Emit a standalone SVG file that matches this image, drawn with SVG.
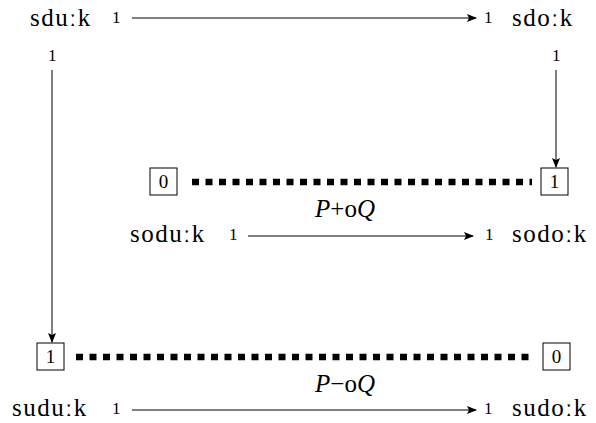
<svg xmlns="http://www.w3.org/2000/svg" width="596" height="423" viewBox="0 0 596 423">
<defs>
<marker id="ah" markerWidth="10" markerHeight="8" refX="9" refY="4" orient="auto" markerUnits="userSpaceOnUse">
<path d="M0,0 L10,4 L0,8 L2,4 Z" fill="#000"/>
</marker>
<style>
.box{fill:#fff;stroke:#000;stroke-width:1}
.ar{stroke:#000;stroke-width:1;fill:none;marker-end:url(#ah)}
.dot{stroke:#000;stroke-width:6.5;stroke-dasharray:7 6.5;fill:none}
</style>
</defs>
<g id="sduk"><text x="30" y="26" font-family="Liberation Serif" font-size="25" letter-spacing="1.5">sduːk</text><text x="112" y="23" font-family="Liberation Serif" font-size="17">1</text><text x="48" y="61" font-family="Liberation Serif" font-size="17">1</text></g>
<g id="sdok"><text x="484" y="23" font-family="Liberation Serif" font-size="17">1</text><text x="512" y="26" font-family="Liberation Serif" font-size="25" letter-spacing="1.5">sdoːk</text><text x="552" y="61" font-family="Liberation Serif" font-size="17">1</text></g>
<g id="soduk"><text x="130" y="242" font-family="Liberation Serif" font-size="25" letter-spacing="1.5">soduːk</text><text x="229" y="240" font-family="Liberation Serif" font-size="17">1</text></g>
<g id="sodok"><text x="485" y="240" font-family="Liberation Serif" font-size="17">1</text><text x="512" y="242" font-family="Liberation Serif" font-size="25" letter-spacing="1.5">sodoːk</text></g>
<g id="suduk"><text x="12" y="416" font-family="Liberation Serif" font-size="25" letter-spacing="1.5">suduːk</text><text x="112" y="414" font-family="Liberation Serif" font-size="17">1</text></g>
<g id="sudok"><text x="484" y="414" font-family="Liberation Serif" font-size="17">1</text><text x="512" y="416" font-family="Liberation Serif" font-size="25" letter-spacing="1.5">sudoːk</text></g>
<g id="box0a"><rect class="box" x="150" y="168" width="27" height="27"/><text x="163.5" y="188" font-family="Liberation Serif" font-size="19" text-anchor="middle">0</text></g>
<g id="box1a"><rect class="box" x="541" y="168" width="27" height="27"/><text x="554.5" y="188" font-family="Liberation Serif" font-size="19" text-anchor="middle">1</text></g>
<g id="box1b"><rect class="box" x="37" y="343" width="27" height="27"/><text x="50.5" y="363" font-family="Liberation Serif" font-size="19" text-anchor="middle">1</text></g>
<g id="box0b"><rect class="box" x="543" y="343" width="27" height="27"/><text x="556.5" y="363" font-family="Liberation Serif" font-size="19" text-anchor="middle">0</text></g>
<g id="connectors">
<line class="ar" x1="132" y1="18" x2="476" y2="18"/>
<line class="ar" x1="52" y1="70" x2="52" y2="342"/>
<line class="ar" x1="556" y1="70" x2="556" y2="167"/>
<line class="ar" x1="248" y1="236" x2="473" y2="236"/>
<line class="ar" x1="132" y1="410" x2="476" y2="410"/>
<line class="dot" x1="192" y1="182" x2="532" y2="182"/>
<line class="dot" x1="76" y1="357" x2="532" y2="357"/>
<text x="345" y="217" font-family="Liberation Serif" font-size="25" text-anchor="middle"><tspan font-style="italic">P</tspan>+o<tspan font-style="italic">Q</tspan></text>
<text x="345" y="392" font-family="Liberation Serif" font-size="25" text-anchor="middle"><tspan font-style="italic">P</tspan>−o<tspan font-style="italic">Q</tspan></text>
</g>
</svg>
